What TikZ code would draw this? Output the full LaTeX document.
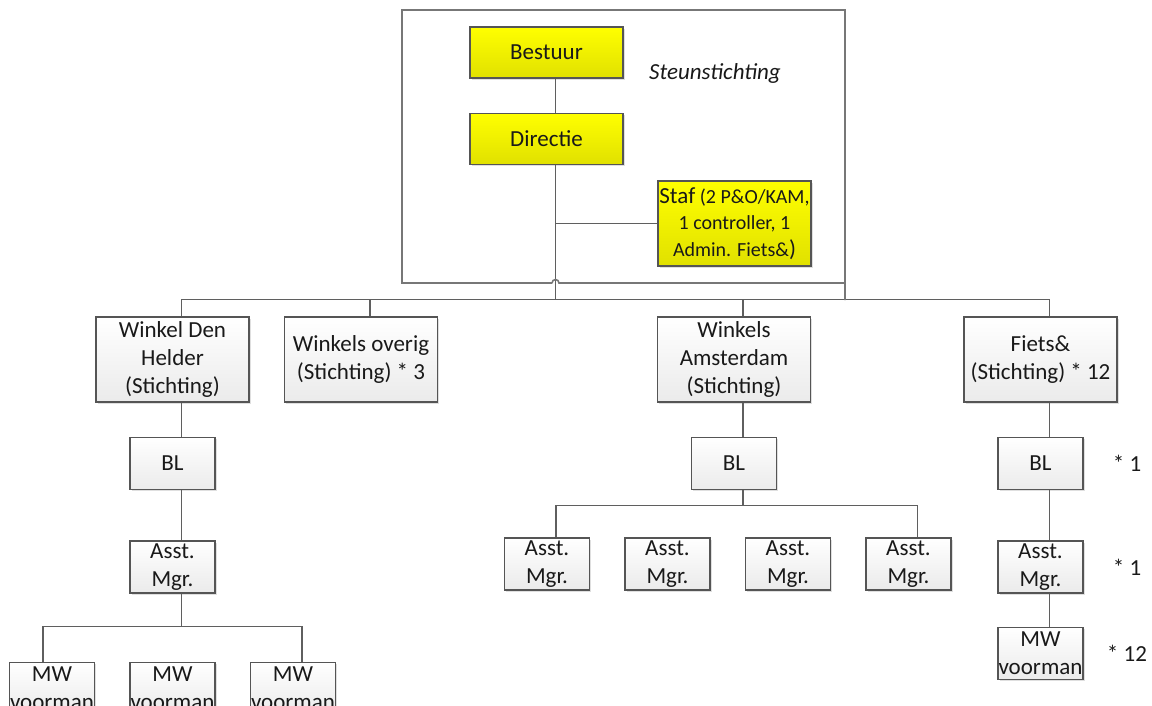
\documentclass[tikz,border=0pt]{standalone}
\usepackage{fontspec}
\setmainfont{Carlito}
\usepackage{tikz}
\usetikzlibrary{positioning,calc,shadows}
\definecolor{lijn}{RGB}{95,95,95}
\definecolor{rand}{RGB}{85,85,85}
\definecolor{tekst}{RGB}{25,25,25}
\tikzset{main base/.style={draw=rand,line width=1.5pt,text centered,align=center,inner sep=0pt,text=tekst,
    font=\fontsize{23}{28}\selectfont,
    drop shadow={shadow xshift=1.5pt,shadow yshift=-1.5pt,opacity=0.25}}, }
\tikzset{main node/.style={rectangle,main base,top color=white,bottom color=black!8}, }
\tikzset{main node2/.style={main node,minimum width=153pt,minimum height=85pt}, }
\tikzset{main small/.style={main node,minimum width=85pt,minimum height=52pt}, }
\tikzset{geel/.style={rectangle,main base,top color=yellow,bottom color=yellow!88!black,
    minimum width=153pt,minimum height=51pt}, }
\tikzset{main verb/.style={inner sep=0pt,text=tekst,font=\fontsize{23}{28}\selectfont}, }
\tikzset{linea/.style={draw=lijn,line width=1.5pt}}
\tikzset{kader/.style={draw=lijn!85,line width=1.6pt}}

\begin{document}
\begin{tikzpicture}[x=1pt,y=-1pt]
  \clip (0,0) rectangle (1152,705);
  % steunstichting
  \node[geel] (1) at (546.5,52.5) {Bestuur};
  \node[geel] (2) [below =34pt of 1] {Directie};
  \node[main verb,font=\fontsize{23}{28}\selectfont\itshape] (0) at (715,73) {Steunstichting};
  \node[geel,font=\fontsize{20}{26.5}\selectfont,minimum height=85pt] (7) at (734.5,223.5)
    {{\fontsize{23}{26.5}\selectfont Staf} (2 P\&O/KAM,\\1 controller, 1\\Admin. Fiets\&{\fontsize{23}{26.5}\selectfont )}};
  % stichtingen
  \node[main node2] (3) at (172.5,359.5) {Winkel Den\\Helder\\(Stichting)};
  \node[main node2] (4) [right =34pt of 3] {Winkels overig\\(Stichting) * 3};
  \node[main node2] (5) at (734,359.5) {Winkels\\Amsterdam\\(Stichting)};
  \node[main node2] (6) at (1040.5,359.5) {Fiets\&\\(Stichting) * 12};
  % Den Helder
  \node[main small] (8) [below =34pt of 3] {BL};
  \node[main small] (9) [below =50pt of 8] {Asst.\\Mgr.};
  \node[main small] (11) [below =68pt of 9] {MW\\voorman};
  \node[main small] (10) [left =34pt of 11] {MW\\voorman};
  \node[main small] (12) [right =34pt of 11] {MW\\voorman};
  % Amsterdam
  \node[main small] (13) [below =34pt of 5] {BL};
  \node[main small] (14) at (547,564) {Asst.\\Mgr.};
  \node[main small] (15) [right =34pt of 14] {Asst.\\Mgr.};
  \node[main small] (16) [right =34pt of 15] {Asst.\\Mgr.};
  \node[main small] (17) [right =34pt of 16] {Asst.\\Mgr.};
  % Fiets&
  \node[main small] (18) [below =34pt of 6] {BL};
  \node[main small] (19) [below =50pt of 18] {Asst.\\Mgr.};
  \node[main small] (20) [below =33pt of 19] {MW\\voorman};
  \node[main verb] (21) [right =29pt of 18] {* 1};
  \node[main verb] (22) [right =29pt of 19] {* 1};
  \node[main verb] (23) [right =23pt of 20] {* 12};
  \coordinate (d) at ([xshift=9pt]2.south);
  \foreach \x/\y/\f/\s in {1/2/.5/9,2/3/.89/9,2/4/.89/9,2/5/.89/9,2/6/.89/9,3/8/.5/9,8/9/.5/9,
      9/10/.485/-9,9/12/.485/9,5/13/.5/9,13/14/.32/9,13/17/.32/9,6/18/.5/9,18/19/.5/9,19/20/.5/9}
    \draw[linea] ([xshift=9pt]\x.south) |- ($([xshift=9pt]\x.south)!\f!([xshift=\s pt]\y.north)$)
      -| ([xshift=\s pt]\y.north);
  \draw[linea] (d |- 7.west) -- (7.west);
  \draw[kader] (552,283) -- (402,283) -- (402,10) -- (845,10) -- (845,300)
    (845,283) -- (559,283) arc[start angle=0,end angle=-180,radius=3.5];
\end{tikzpicture}
\end{document}
